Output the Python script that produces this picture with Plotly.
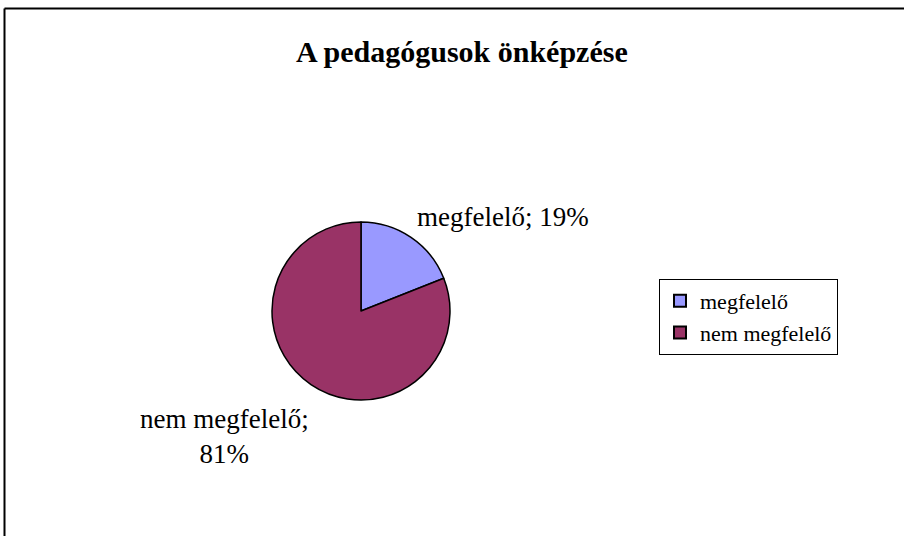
import plotly.graph_objects as go

title = "A pedagógusok önképzése"
categories = ["megfelelő", "nem megfelelő"]
values = [19, 81]
colors = ["#9999FF", "#993366"]

W, H = 904, 536
cx, cy, r = 361, 311, 89
SERIF = "Liberation Serif, Times New Roman, serif"

fig = go.Figure()
fig.add_trace(go.Pie(
    labels=categories,
    values=values,
    sort=False,
    direction="clockwise",
    rotation=0,
    marker=dict(colors=colors, line=dict(color="black", width=1.5)),
    textinfo="none",
    hovertemplate="%{label}; %{percent:.0%}<extra></extra>",
    domain=dict(x=[(cx - r) / W, (cx + r) / W], y=[(H - cy - r) / H, (H - cy + r) / H]),
))

total = sum(values)
pct = [round(v / total * 100) for v in values]
font_lbl = dict(family=SERIF, size=27, color="black")

fig.add_annotation(x=503 / W, y=1 - 217 / H, xref="paper", yref="paper",
                   text=f"{categories[0]}; {pct[0]}%", showarrow=False, font=font_lbl,
                   xanchor="center", yanchor="middle")
fig.add_annotation(x=224 / W, y=1 - 436 / H, xref="paper", yref="paper",
                   text=f"{categories[1]};<br>{pct[1]}%", showarrow=False, font=font_lbl,
                   xanchor="center", yanchor="middle", align="center")

fig.add_annotation(x=462 / W, y=1 - 52 / H, xref="paper", yref="paper",
                   text=f"<b>{title}</b>", showarrow=False,
                   font=dict(family=SERIF, size=30, color="black"),
                   xanchor="center", yanchor="middle")

# outer frame (top and left edges visible)
fig.add_shape(type="line", xref="paper", yref="paper", x0=4.5 / W, x1=1.01, y0=1 - 8.5 / H, y1=1 - 8.5 / H,
              line=dict(color="black", width=2))
fig.add_shape(type="line", xref="paper", yref="paper", x0=4.5 / W, x1=4.5 / W, y0=-0.01, y1=1 - 8.5 / H,
              line=dict(color="black", width=2))

fig.update_layout(
    width=W, height=H,
    margin=dict(l=0, r=0, t=0, b=0),
    paper_bgcolor="white",
    plot_bgcolor="white",
    showlegend=True,
    legend=dict(
        x=659 / W, y=1 - 279 / H, xanchor="left", yanchor="top",
        bordercolor="black", borderwidth=1, bgcolor="white",
        font=dict(family=SERIF, size=22, color="black"),
        itemsizing="constant", tracegroupgap=0,
    ),
)

fig.write_html("out.html", config={"displayModeBar": False},
               post_script="document.body.style.margin='0';")
